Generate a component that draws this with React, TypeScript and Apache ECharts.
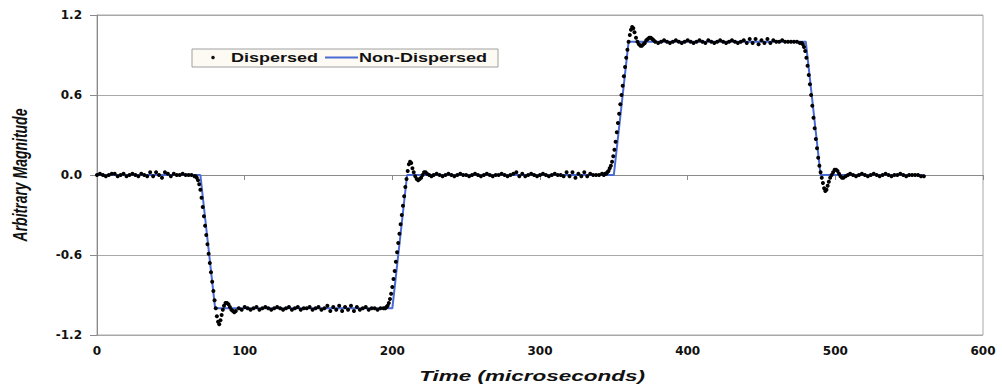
import React, { useEffect, useRef } from "react";
import * as echarts from "echarts";

// ---- Data (time in microseconds, arbitrary magnitude) ----
const seriesNames = ["Dispersed", "Non-Dispersed"];

const nonDispersed: [number, number][] = [
  [0, 0], [70, 0], [80, -1], [200, -1], [210, 0], [350, 0], [360, 1], [480, 1], [490, 0], [560, 0],
];

const dispersedStart: [number, number][] = [
  [0, 0.0], [2, 0.01], [4, 0.0], [6, -0.01], [8, 0.0], [10, 0.01], [12, 0.01], [14, -0.01], [16, 0.0], [18, 0.01],
  [20, -0.01], [22, 0.0], [24, 0.01], [26, 0.0], [28, -0.01], [30, 0.01], [32, 0.0], [34, -0.01], [36, 0.02], [38, -0.01],
  [40, 0.02], [42, 0.0], [44, -0.02], [46, 0.02], [48, 0.01], [50, -0.01], [52, 0.01], [54, 0.0], [56, 0.0], [58, 0.01],
  [60, 0.0], [62, 0.0], [64, 0.0], [66, -0.01],
];

const dispersedFall1: [number, number][] = [
  [66.8, -0.01], [67.6, -0.02], [68.4, -0.04], [69.2, -0.07], [70.0, -0.11], [70.8, -0.17], [71.6, -0.24], [72.4, -0.31],
  [73.2, -0.38], [74.0, -0.45], [74.8, -0.52], [75.6, -0.59], [76.4, -0.66], [77.2, -0.73], [78.0, -0.8], [78.8, -0.87],
  [79.6, -0.94], [80.4, -1.0], [81.2, -1.06], [82.0, -1.1], [82.8, -1.12], [83.6, -1.09], [84.4, -1.05], [85.2, -1.01],
  [86, -0.98], [87, -0.96], [88, -0.96], [89, -0.97], [90, -0.99], [91, -1.01], [92, -1.02], [93, -1.03], [94, -1.02], [96, -1.0],
];

const dispersedLow: [number, number][] = [
  [98, -1.01], [100, -0.99], [102, -1.0], [104, -1.01], [106, -1.0], [108, -0.99], [110, -1.01], [112, -1.0], [114, -0.99],
  [116, -1.0], [118, -1.01], [120, -1.0], [122, -0.99], [124, -1.0], [126, -1.01], [128, -1.0], [130, -0.99], [132, -1.01],
  [134, -1.0], [136, -0.99], [138, -1.01], [140, -1.0], [142, -1.0], [144, -0.99], [146, -1.01], [148, -1.0], [150, -0.99],
  [152, -1.01], [154, -1.0], [156, -0.98], [158, -1.02], [160, -0.99], [162, -1.01], [164, -0.98], [166, -1.02], [168, -0.99],
  [170, -1.01], [172, -0.98], [174, -1.02], [176, -0.99], [178, -1.01], [180, -1.0], [182, -0.99], [184, -1.01], [186, -1.0],
  [188, -1.0], [190, -1.01], [192, -1.0], [194, -1.0],
];

const dispersedRise1: [number, number][] = [
  [195.2, -1.0], [196.0, -0.99], [196.8, -0.98], [197.6, -0.96], [198.4, -0.93], [199.2, -0.89], [200.0, -0.84], [200.8, -0.78],
  [201.6, -0.72], [202.4, -0.65], [203.2, -0.58], [204.0, -0.51], [204.8, -0.44], [205.6, -0.37], [206.4, -0.3], [207.2, -0.23],
  [208.0, -0.16], [208.8, -0.09], [209.6, -0.03], [210.4, 0.03], [211.2, 0.08], [212.0, 0.1], [212.8, 0.09], [213.6, 0.05],
  [214.5, 0.02], [215.5, -0.01], [216.5, -0.03], [217.5, -0.04], [218.5, -0.03], [219.5, -0.02], [220.5, 0.0], [221.5, 0.02],
  [222.5, 0.02], [223.5, 0.01], [225, 0.0], [226.5, -0.01],
];

const dispersedMid: [number, number][] = [
  [228, 0.0], [230, 0.01], [232, 0.0], [234, -0.01], [236, 0.0], [238, 0.01], [240, 0.0], [242, -0.01], [244, 0.0], [246, 0.01],
  [248, 0.0], [250, 0.0], [252, -0.01], [254, 0.0], [256, 0.01], [258, 0.0], [260, -0.01], [262, 0.0], [264, 0.01], [266, 0.0],
  [268, -0.01], [270, 0.0], [272, 0.0], [274, 0.01], [276, 0.0], [278, -0.01], [280, 0.0], [282, 0.01], [284, 0.02], [286, -0.01],
  [288, 0.01], [290, -0.01], [292, 0.0], [294, 0.01], [296, 0.0], [298, -0.01], [300, 0.0], [302, 0.01], [304, 0.0], [306, -0.01],
  [308, 0.0], [310, 0.01], [312, 0.0], [314, 0.0], [316, -0.01], [318, 0.02], [320, -0.01], [322, 0.02], [324, -0.02], [326, 0.01],
  [328, -0.01], [330, 0.02], [332, -0.01], [334, 0.01], [336, 0.0], [338, 0.0], [340, 0.0], [342, 0.01],
];

const dispersedRise2: [number, number][] = [
  [343.2, 0.0], [344.0, 0.01], [344.8, 0.01], [345.6, 0.02], [346.4, 0.03], [347.2, 0.05], [348.0, 0.07], [348.8, 0.1],
  [349.6, 0.14], [350.4, 0.19], [351.2, 0.25], [352.0, 0.32], [352.8, 0.39], [353.6, 0.46], [354.4, 0.53], [355.2, 0.6],
  [356.0, 0.67], [356.8, 0.74], [357.6, 0.81], [358.4, 0.88], [359.2, 0.94], [360.0, 1.0], [360.8, 1.05], [361.6, 1.09],
  [362.4, 1.11], [363.2, 1.1], [364.0, 1.07], [365, 1.03], [366, 1.0], [367, 0.98], [368, 0.97], [369, 0.97], [370, 0.98],
  [371, 0.99], [372, 1.01], [373, 1.02], [374, 1.03], [375, 1.03], [376, 1.02], [377, 1.01], [378, 1.0],
];

const dispersedHigh: [number, number][] = [
  [380, 0.99], [382, 1.0], [384, 1.01], [386, 1.0], [388, 0.99], [390, 1.0], [392, 1.01], [394, 1.0], [396, 0.99], [398, 1.0],
  [400, 1.01], [402, 1.0], [404, 0.99], [406, 1.0], [408, 1.01], [410, 1.0], [412, 0.99], [414, 1.01], [416, 1.0], [418, 0.99],
  [420, 1.0], [422, 1.01], [424, 1.0], [426, 0.99], [428, 1.0], [430, 1.01], [432, 1.0], [434, 0.99], [436, 1.0], [438, 1.01],
  [440, 0.99], [442, 1.02], [444, 0.99], [446, 1.02], [448, 0.98], [450, 1.01], [452, 0.99], [454, 1.02], [456, 0.99], [458, 1.01],
  [460, 1.0], [462, 1.0], [464, 1.01], [466, 1.0], [468, 1.0], [470, 1.0], [472, 1.0], [474, 1.0], [476, 0.99],
];

const dispersedFall2: [number, number][] = [
  [477.2, 0.99], [478.0, 0.98], [478.8, 0.96], [479.6, 0.93], [480.4, 0.88], [481.2, 0.82], [482.0, 0.75], [482.8, 0.68],
  [483.6, 0.6], [484.4, 0.52], [485.2, 0.43], [486.0, 0.35], [486.8, 0.27], [487.6, 0.2], [488.4, 0.13], [489.2, 0.07],
  [490.0, 0.02], [490.8, -0.02], [491.6, -0.06], [492.4, -0.1], [493.2, -0.12], [494.0, -0.11], [494.8, -0.08], [495.6, -0.05],
  [496.5, -0.02], [497.5, 0.0], [498.5, 0.02], [499.5, 0.04], [500.5, 0.04], [501.5, 0.03], [502.5, 0.01], [503.5, -0.01],
  [504.5, -0.02], [505.5, -0.02], [507, -0.01], [508.5, 0.0],
];

const dispersedEnd: [number, number][] = [
  [510, 0.01], [512, 0.0], [514, -0.01], [516, 0.0], [518, 0.01], [520, 0.0], [522, -0.01], [524, 0.0], [526, 0.01], [528, 0.0],
  [530, -0.01], [532, 0.0], [534, 0.01], [536, 0.0], [538, -0.01], [540, 0.0], [542, 0.0], [544, 0.01], [546, 0.0], [548, -0.01],
  [550, 0.0], [552, 0.0], [554, 0.0], [556, 0.0], [558, -0.01], [560, -0.01],
];

const dispersed: [number, number][] = [
  ...dispersedStart, ...dispersedFall1, ...dispersedLow, ...dispersedRise1, ...dispersedMid,
  ...dispersedRise2, ...dispersedHigh, ...dispersedFall2, ...dispersedEnd,
];

const xAxisRange = { min: 0, max: 600, interval: 100 };
const yAxisRange = { min: -1.2, max: 1.2, interval: 0.6 };
const xTitle = "Time (microseconds)";
const yTitle = "Arbitrary Magnitude";

const BLUE = "#4a6ad4";

export default function App() {
  const ref = useRef<HTMLDivElement>(null);
  useEffect(() => {
    if (!ref.current) return;
    const chart = echarts.init(ref.current, undefined, { renderer: "svg" });
    const tickFont = {
      fontFamily: "DejaVu Sans",
      fontWeight: "bold" as const,
      fontSize: 12,
      color: "#111",
    };
    chart.setOption({
      animation: false,
      backgroundColor: "#ffffff",
      grid: {
        left: 97,
        right: 19,
        top: 15,
        bottom: 52,
        show: true,
        borderColor: "#a8a8a8",
        borderWidth: 1,
        backgroundColor: "transparent",
      },
      xAxis: {
        type: "value",
        ...xAxisRange,
        axisLine: { show: true, lineStyle: { color: "#8a8a8a", width: 1 } },
        axisTick: { show: true, length: 5, lineStyle: { color: "#8a8a8a" } },
        splitLine: { show: false },
        axisLabel: { ...tickFont, margin: 10 },
      },
      yAxis: {
        type: "value",
        ...yAxisRange,
        axisLine: { show: true, lineStyle: { color: "#8a8a8a", width: 1 } },
        axisTick: { show: true, length: 7, lineStyle: { color: "#8a8a8a" } },
        splitLine: { show: true, lineStyle: { color: "#a8a8a8", width: 1 } },
        axisLabel: {
          ...tickFont,
          margin: 15,
          formatter: (v: number) => v.toFixed(1),
        },
      },
      series: [
        {
          name: seriesNames[1],
          type: "line",
          data: nonDispersed,
          showSymbol: false,
          lineStyle: { color: BLUE, width: 2 },
          itemStyle: { color: BLUE },
          z: 2,
        },
        {
          name: seriesNames[0],
          type: "scatter",
          data: dispersed,
          symbol: "circle",
          symbolSize: 4,
          itemStyle: { color: "#000000", opacity: 1 },
          z: 3,
        },
      ],
      graphic: [
        {
          type: "group",
          z: 100,
          children: [
            {
              type: "rect",
              shape: { x: 192, y: 49, width: 306, height: 18 },
              style: { fill: "#fcfaf3", stroke: "#a0a0a0", lineWidth: 1 },
            },
            {
              type: "circle",
              shape: { cx: 213, cy: 57.5, r: 1.8 },
              style: { fill: "#111111" },
            },
            {
              type: "text",
              x: 231,
              y: 58,
              scaleX: 1.5,
              style: {
                text: seriesNames[0],
                font: "bold 12px 'Liberation Sans', Arial, sans-serif",
                fill: "#111",
                textAlign: "left",
                textVerticalAlign: "middle",
              },
            },
            {
              type: "line",
              shape: { x1: 325, y1: 57.5, x2: 358, y2: 57.5 },
              style: { stroke: BLUE, lineWidth: 2 },
            },
            {
              type: "text",
              x: 359,
              y: 58,
              scaleX: 1.5,
              style: {
                text: seriesNames[1],
                font: "bold 12px 'Liberation Sans', Arial, sans-serif",
                fill: "#111",
                textAlign: "left",
                textVerticalAlign: "middle",
              },
            },
          ],
        },
        {
          type: "text",
          x: 532,
          y: 376,
          scaleX: 1.5,
          style: {
            text: xTitle,
            font: "italic bold 15px 'Liberation Sans', Arial, sans-serif",
            fill: "#111",
            textAlign: "center",
            textVerticalAlign: "middle",
          },
        },
        {
          type: "text",
          x: 20,
          y: 175,
          rotation: Math.PI / 2,
          scaleY: 1.45,
          style: {
            text: yTitle,
            font: "italic bold 14px 'Liberation Sans', Arial, sans-serif",
            fill: "#111",
            textAlign: "center",
            textVerticalAlign: "middle",
          },
        },
      ],
    });
    return () => chart.dispose();
  }, []);
  return (
    <div
      ref={ref}
      style={{ position: "absolute", left: 0, top: 0, width: 1002, height: 387 }}
    />
  );
}
